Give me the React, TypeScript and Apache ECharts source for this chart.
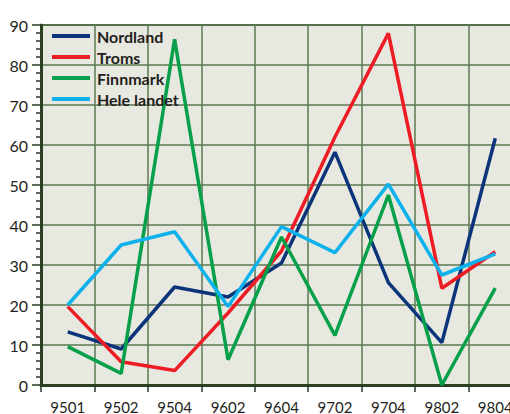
import React, { useEffect, useRef } from "react";
import * as echarts from "echarts";

const categories = ["9501", "9502", "9504", "9602", "9604", "9702", "9704", "9802", "9804"];
const nordland = [13.3, 9.0, 24.5, 22.0, 30.5, 58.2, 25.6, 10.6, 61.7];
const troms = [19.6, 5.8, 3.6, 18.0, 33.5, 62.0, 87.9, 24.2, 33.3];
const finnmark = [9.6, 2.9, 86.4, 6.3, 37.0, 12.4, 47.5, 0, 24.2];
const heleLandet = [20.0, 35.0, 38.3, 19.6, 39.6, 33.1, 50.2, 27.5, 32.8];
const seriesNames = ["Nordland", "Troms", "Finnmark", "Hele landet"];
const seriesColors = ["#0b347a", "#ee1c25", "#07a04a", "#0db1ec"];

export default function App() {
  const ref = useRef<HTMLDivElement>(null);
  useEffect(() => {
    if (!ref.current) return;
    const chart = echarts.init(ref.current, undefined, { renderer: "svg" });
    const data = [nordland, troms, finnmark, heleLandet];
    chart.setOption({
      animation: false,
      backgroundColor: "#ffffff",
      textStyle: { fontFamily: "Lato" },
      grid: {
        left: 41,
        top: 25,
        width: 481,
        height: 360,
        outerBoundsMode: "none",
        containLabel: false,
        show: true,
        backgroundColor: "#e7e8df",
        borderColor: "#3f5a35",
        borderWidth: 2,
      },
      legend: {
        orient: "vertical",
        left: 52,
        top: 28,
        padding: 0,
        itemWidth: 38,
        itemHeight: 4,
        itemGap: 5,
        icon: "rect",
        data: seriesNames,
        textStyle: { fontFamily: "Lato", fontWeight: "bold", fontSize: 16, color: "#231f20", padding: [0, 0, 0, 2] },
      },
      xAxis: {
        type: "category",
        data: categories,
        boundaryGap: true,
        axisLine: { lineStyle: { color: "#2a4020", width: 3 } },
        axisTick: { show: true, length: 7, lineStyle: { color: "#2a3a25", width: 1.5 } },
        splitLine: { show: true, interval: 0, lineStyle: { color: "#5e7a52", width: 1.5 } },
        axisLabel: { fontFamily: "Lato", fontSize: 15, color: "#231f20", margin: 14 },
      },
      yAxis: {
        type: "value",
        min: 0,
        max: 90,
        interval: 10,
        axisLine: { show: true, lineStyle: { color: "#2a4020", width: 3 } },
        axisTick: { show: true, length: 9, lineStyle: { color: "#2a3a25", width: 1.5 } },
        minorTick: { show: true, splitNumber: 5, length: 5, lineStyle: { color: "#2a3a25", width: 1.5 } },
        splitLine: { show: true, lineStyle: { color: "#5e7a52", width: 1.5 } },
        axisLabel: { fontFamily: "Lato", fontSize: 16, color: "#231f20", margin: 13 },
      },
      series: seriesNames.map((name, i) => ({
        name,
        type: "line",
        data: data[i],
        symbol: "none",
        color: seriesColors[i],
        lineStyle: { width: 3.5, color: seriesColors[i] },
      })),
    });
    return () => chart.dispose();
  }, []);
  return <div ref={ref} style={{ position: "fixed", left: 0, top: 0, width: 510, height: 414 }} />;
}
